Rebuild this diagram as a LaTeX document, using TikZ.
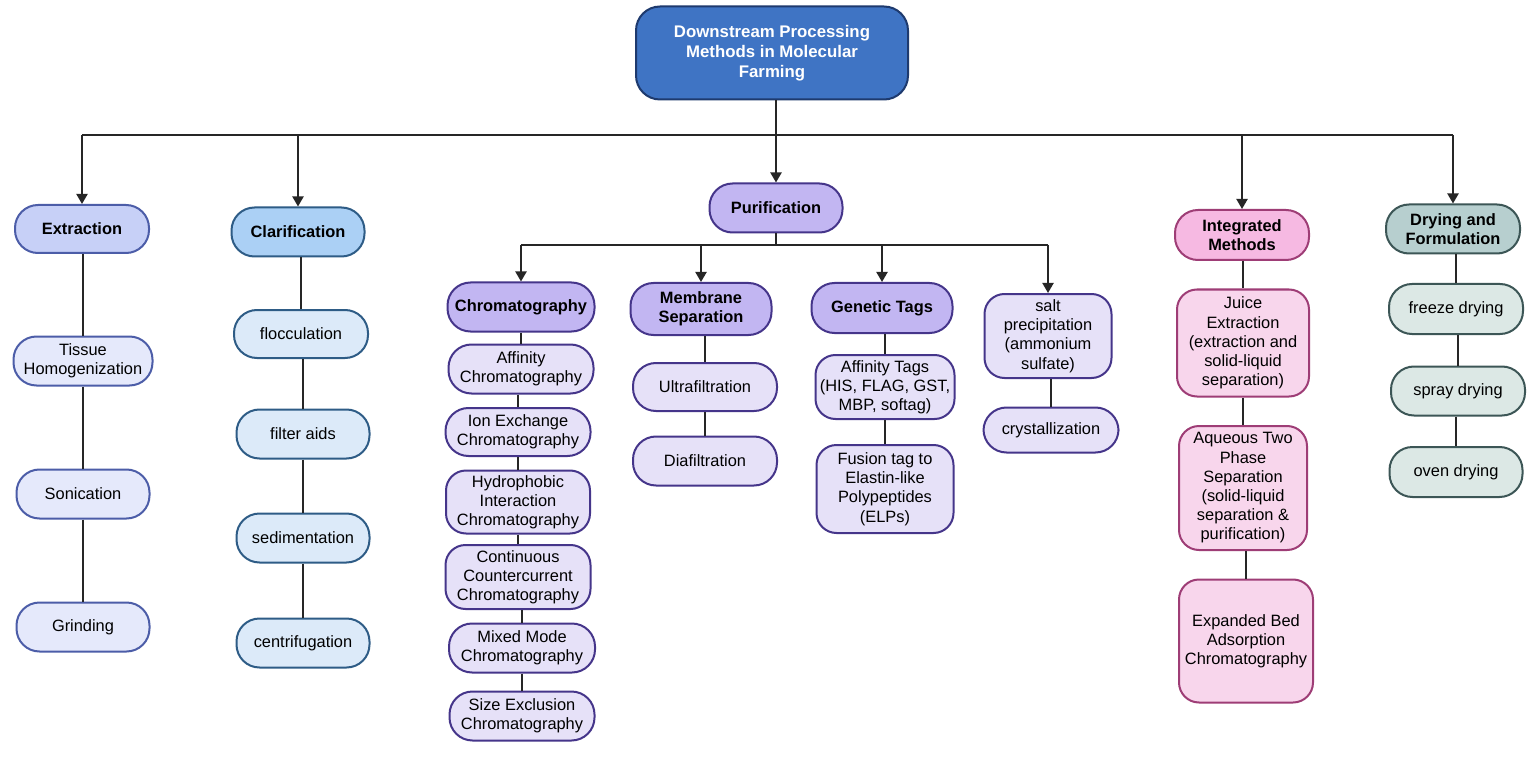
\documentclass[tikz,border=0pt]{standalone}
\usepackage{fontspec}
\setmainfont{Liberation Sans}
\usetikzlibrary{arrows.meta}
\definecolor{topF}{HTML}{3F74C4}\definecolor{topD}{HTML}{1E3A6E}
\definecolor{extHF}{HTML}{C7D0F7}\definecolor{extD}{HTML}{4C5DA8}\definecolor{extCF}{HTML}{E5E9FB}
\definecolor{claHF}{HTML}{ABD0F5}\definecolor{claD}{HTML}{2E5C86}\definecolor{claCF}{HTML}{DCEAF9}
\definecolor{purHF}{HTML}{C2B6F2}\definecolor{purD}{HTML}{45358A}\definecolor{purCF}{HTML}{E6E1F8}
\definecolor{intHF}{HTML}{F6B9E2}\definecolor{intD}{HTML}{9E3D76}\definecolor{intCF}{HTML}{F8D6EC}
\definecolor{dryHF}{HTML}{B7CFCF}\definecolor{dryD}{HTML}{3C5656}\definecolor{dryCF}{HTML}{DCE8E5}
\definecolor{lineC}{HTML}{262626}
\tikzset{
  box/.style={draw, line width=1pt, rounded corners=11.5pt, align=center, inner sep=0pt,
    font=\fontsize{8.2}{9.6}\selectfont, text=black},
  tall/.style={rounded corners=10pt},
  hdr/.style={font=\fontsize{8.2}{9.6}\selectfont\bfseries},
  wh/.style 2 args={minimum width=#1*0.5pt, minimum height=#2*0.5pt},
  extH/.style={box, hdr, fill=extHF, draw=extD}, extC/.style={box, fill=extCF, draw=extD},
  claH/.style={box, hdr, fill=claHF, draw=claD}, claC/.style={box, fill=claCF, draw=claD},
  purH/.style={box, hdr, fill=purHF, draw=purD}, purC/.style={box, fill=purCF, draw=purD},
  intH/.style={box, hdr, fill=intHF, draw=intD}, intC/.style={box, fill=intCF, draw=intD},
  dryH/.style={box, hdr, fill=dryHF, draw=dryD}, dryC/.style={box, fill=dryCF, draw=dryD},
  link/.style={draw=lineC, line width=1pt},
  arr/.style={link, -{Triangle[length=5pt,width=5.5pt]}}
}
\begin{document}
\begin{tikzpicture}[x=0.5pt, y=-0.5pt]
\useasboundingbox[fill=white] (0,0) rectangle (1536,759);
% top
\node[box, fill=topF, draw=topD, text=white, font=\fontsize{8.4}{10}\selectfont\bfseries, wh={272}{93}, rounded corners=12pt]
  (top) at (772,53) {Downstream Processing\\Methods in Molecular\\Farming};
% level 1
\node[extH, wh={134}{48}] (ext) at (82,229) {Extraction};
\node[claH, wh={133}{49}] (cla) at (298,232) {Clarification};
\node[purH, wh={133}{49}] (pur) at (776,208) {Purification};
\node[intH, wh={134}{50}] (int) at (1242,235) {Integrated\\Methods};
\node[dryH, wh={134}{49}] (dry) at (1453,229) {Drying and\\Formulation};
% extraction
\node[extC, wh={139}{49}] (tis) at (83,361) {Tissue\\Homogenization};
\node[extC, wh={133}{49}] (son) at (83,494) {Sonication};
\node[extC, wh={133}{49}] (gri) at (83,627) {Grinding};
% clarification
\node[claC, wh={134}{48}] (flo) at (301,334) {flocculation};
\node[claC, wh={133}{49}] (fil) at (303,434) {filter aids};
\node[claC, wh={133}{49}] (sed) at (303,538) {sedimentation};
\node[claC, wh={133}{49}] (cen) at (303,643) {centrifugation};
% purification level 2
\node[purH, wh={147}{49}] (chr) at (521,307) {Chromatography};
\node[purH, wh={141}{52}] (mem) at (701,309) {Membrane\\Separation};
\node[purH, wh={141}{50}] (gen) at (882,308) {Genetic Tags};
\node[purC, wh={127}{84}, tall] (sal) at (1048,336) {salt\\precipitation\\(ammonium\\sulfate)};
\node[purC, wh={135}{45}] (cry) at (1051,430) {crystallization};
% chromatography
\node[purC, wh={145}{49}] (aff) at (521,369) {Affinity\\Chromatography};
\node[purC, wh={145}{48}] (ion) at (518,432) {Ion Exchange\\Chromatography};
\node[purC, wh={144}{63}, tall] (hyd) at (518,502) {Hydrophobic\\Interaction\\Chromatography};
\node[purC, wh={145}{64}, tall] (con) at (518,577) {Continuous\\Countercurrent\\Chromatography};
\node[purC, wh={146}{49}] (mix) at (522,648) {Mixed Mode\\Chromatography};
\node[purC, wh={145}{49}] (siz) at (522,716) {Size Exclusion\\Chromatography};
% membrane
\node[purC, wh={144}{48}] (ult) at (705,387) {Ultrafiltration};
\node[purC, wh={144}{49}] (dia) at (705,461) {Diafiltration};
% genetic
\node[purC, wh={139}{64}, tall] (afft) at (885,387) {Affinity Tags\\(HIS, FLAG, GST,\\MBP, softag)};
\node[purC, wh={137}{88}, tall] (fus) at (885,489) {Fusion tag to\\Elastin-like\\Polypeptides\\(ELPs)};
% integrated
\node[intC, wh={132}{107}, tall] (jui) at (1243,343) {Juice\\Extraction\\(extraction and\\solid-liquid\\separation)};
\node[intC, wh={128}{124}, tall] (aqu) at (1243,488) {Aqueous Two\\Phase\\Separation\\(solid-liquid\\separation \&\\purification)};
\node[intC, wh={134}{123}, tall] (exp) at (1246,641) {Expanded Bed\\Adsorption\\Chromatography};
% drying
\node[dryC, wh={134}{50}] (fre) at (1456,309) {freeze drying};
\node[dryC, wh={134}{49}] (spr) at (1458,391) {spray drying};
\node[dryC, wh={133}{50}] (ove) at (1456,472) {oven drying};
% main bus
\coordinate (bus) at (0,135);
\draw[link] (pur.north |- top.south) -- (pur.north |- bus);
\draw[link] (ext.north |- bus) -- (dry.north |- bus);
\foreach \n in {ext,cla,pur,int,dry} \draw[arr] (\n.north |- bus) -- (\n.north);
% purification bus
\coordinate (pbus) at (0,245);
\draw[link] (pur.south) -- (pur.south |- pbus);
\draw[link] (chr.north |- pbus) -- (sal.north |- pbus);
\foreach \n in {chr,mem,gen,sal} \draw[arr] (\n.north |- pbus) -- (\n.north);
% column links
\foreach \a/\b in {ext/tis,tis/son,son/gri,cla/flo,flo/fil,fil/sed,sed/cen,
  chr/aff,aff/ion,ion/hyd,hyd/con,con/mix,mix/siz,mem/ult,ult/dia,gen/afft,afft/fus,
  sal/cry,int/jui,jui/aqu,aqu/exp,dry/fre,fre/spr,spr/ove}
  \draw[link] (\b.north |- \a.south) -- (\b.north);
\end{tikzpicture}
\end{document}
